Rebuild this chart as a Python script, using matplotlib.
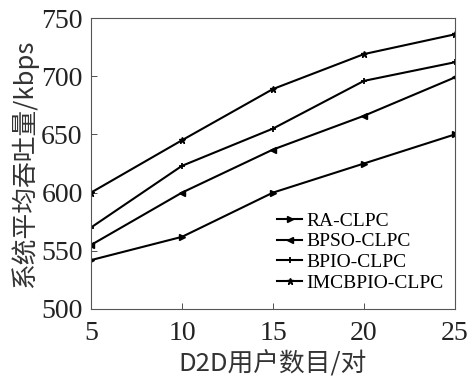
import matplotlib
matplotlib.use("Agg")
import matplotlib.pyplot as plt

x = [5, 10, 15, 20, 25]
ra = [542, 562, 600, 625, 650]
bpso = [555, 600, 637, 666, 699]
bpio = [570, 623, 655, 696, 712]
imcbpio = [600, 645, 689, 719, 736]
labels = ["RA-CLPC", "BPSO-CLPC", "BPIO-CLPC", "IMCBPIO-CLPC"]
xticks = [5, 10, 15, 20, 25]
yticks = [500, 550, 600, 650, 700, 750]

fig = plt.figure(figsize=(4.71, 3.76), dpi=100)
ax = fig.add_axes([91/471, 1-309/376, (455-91)/471, (309-18)/376])

serif = "Liberation Serif"
kw = dict(color="black", lw=1.5, ms=5)
ax.plot(x, ra, marker=">", label=labels[0], **kw)
ax.plot(x, bpso, marker="<", label=labels[1], **kw)
ax.plot(x, bpio, marker="+", label=labels[2], mew=1.3, **kw)
ax.plot(x, imcbpio, marker="*", label=labels[3], **kw)

ax.set_xlim(5, 25)
ax.set_ylim(500, 750)
ax.set_xticks(xticks)
ax.set_yticks(yticks)
ax.tick_params(direction="in", length=4, width=0.6, colors="#333333", labelcolor="#222222", pad=6)
ax.tick_params(axis="x", pad=9)
for lab in ax.get_xticklabels() + ax.get_yticklabels():
    lab.set_fontfamily(serif)
    lab.set_fontsize(20)
for s in ax.spines.values():
    s.set_linewidth(0.8)
    s.set_color("#555555")

cjk = ["Noto Sans CJK SC", "DejaVu Sans"]
ax.set_xlabel("D2D用户数目/对", family=cjk, fontsize=18.5, color="#333333", labelpad=3)
ax.set_ylabel("系统平均吞吐量/kbps", family=cjk, fontsize=18.5, color="#333333", labelpad=2)

leg = ax.legend(loc="lower right", bbox_to_anchor=(1.0, 0.02), frameon=False,
                prop={"family": serif, "size": 14}, handlelength=1.3, handletextpad=0.2,
                labelspacing=0.15, borderaxespad=0.2)

fig.savefig("out.png", dpi=100)
